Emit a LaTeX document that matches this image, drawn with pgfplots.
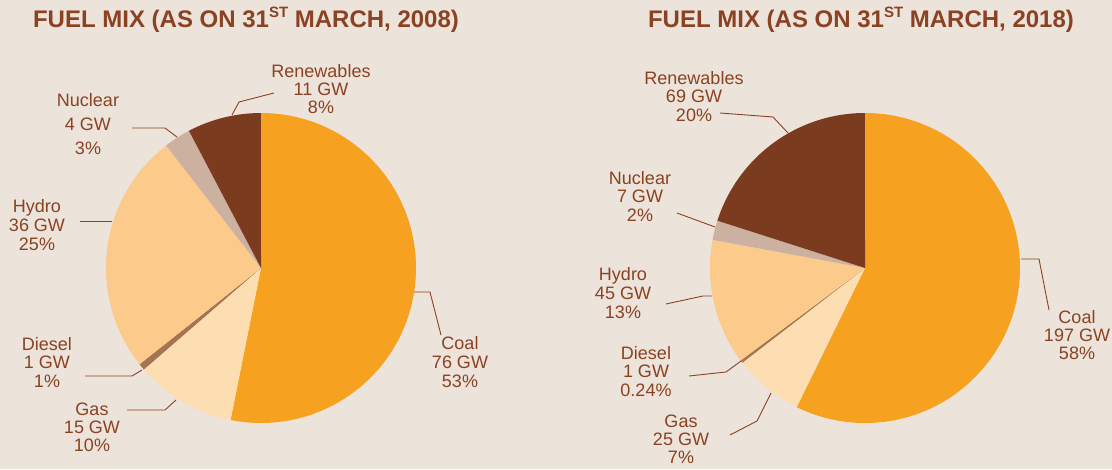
\documentclass[border=0pt]{standalone}
\usepackage{pgfplots}
\pgfplotsset{compat=1.18}
\usepackage{pgfplotstable}
\usepackage{fontspec}
\setmainfont{Liberation Sans}

\definecolor{bg}{HTML}{ECE3DB}
\definecolor{txt}{HTML}{8B4222}
\definecolor{pie0}{HTML}{F6A11F} % coal
\definecolor{pie1}{HTML}{FDDEB2} % gas
\definecolor{pie2}{HTML}{A57452} % diesel
\definecolor{pie3}{HTML}{FCCB8C} % hydro
\definecolor{pie4}{HTML}{CCB1A0} % nuclear
\definecolor{pie5}{HTML}{7A3B1E} % renewables

\tikzset{
  lab/.style={anchor=base, text=txt, inner sep=0pt, font=\fontsize{18}{18}\selectfont},
  lead/.style={draw=txt, line width=0.9pt},
}

% installed capacity, GW (clockwise from 12 o'clock)
\pgfplotstableread{
fuel gw
Coal 76
Gas 15
Diesel 1
Hydro 36
Nuclear 4
Renewables 11
}\fuelA
\pgfplotstableread{
fuel gw
Coal 197
Gas 25
Diesel 1
Hydro 45
Nuclear 7
Renewables 69
}\fuelB

% #1 table, #2 #3 centre (axis units = px)
\newcommand{\drawpie}[3]{%
  \gdef\pietot{0}%
  \pgfplotstableforeachcolumnelement{gw}\of#1\as\v{%
    \pgfmathsetmacro\t{\pietot+\v}\xdef\pietot{\t}}%
  \gdef\pieang{90}%
  \pgfplotstableforeachcolumnelement{gw}\of#1\as\v{%
    \pgfmathsetmacro\e{\pieang-360*(\v/\pietot)}%
    \fill[pie\pgfplotstablerow] (axis cs:#2,#3) -- ++(\pieang:155pt)
      arc[start angle=\pieang, end angle=\e, radius=155pt] -- cycle;
    \xdef\pieang{\e}}%
}
% x, first baseline, line step, three lines
\newcommand{\lbl}[6]{%
  \node[lab] at (axis cs:#1,#2) {#4};
  \node[lab] at (axis cs:#1,{#2+#3}) {#5};
  \node[lab] at (axis cs:#1,{#2+2*#3}) {#6};}
\newcommand{\ttl}[2]{%
  \node[anchor=base, text=txt, inner sep=0pt, font=\bfseries\fontsize{24}{28}\selectfont]
    at (axis cs:#1,27) {FUEL MIX (AS ON 31\raisebox{9.5pt}{\fontsize{15}{15}\selectfont ST} MARCH, #2)};}

\begin{document}
\begin{tikzpicture}
\begin{axis}[
    width=1112pt, height=469pt, scale only axis,
    xmin=0, xmax=1112, ymin=0, ymax=469, y dir=reverse,
    hide axis, clip=false,
]
\pgfplotsextra{
  \fill[bg] (axis cs:0,0) rectangle (axis cs:1112,469);
  \drawpie{\fuelA}{261}{268}
  \drawpie{\fuelB}{865}{268}
}

\ttl{246}{2008}
\ttl{861}{2018}

% 2008
\lbl{321}{77}{18}{Renewables}{11 GW}{8\%}
\lbl{88}{106}{24}{Nuclear}{4 GW}{3\%}
\lbl{37}{212}{19}{Hydro}{36 GW}{25\%}
\lbl{47}{350}{18.5}{Diesel}{1 GW}{1\%}
\lbl{92}{415}{18}{Gas}{15 GW}{10\%}
\lbl{460}{349}{19}{Coal}{76 GW}{53\%}
\draw[lead] (axis cs:232,115) -- (axis cs:239,102) -- (axis cs:274,93);
\draw[lead] (axis cs:132,128) -- (axis cs:165,128) -- (axis cs:177,137);
\draw[lead] (axis cs:80,221) -- (axis cs:112,221);
\draw[lead] (axis cs:85,376) -- (axis cs:132,376) -- (axis cs:142,370);
\draw[lead] (axis cs:127,410) -- (axis cs:165,410) -- (axis cs:176,400);
\draw[lead] (axis cs:414,292) -- (axis cs:430,292) -- (axis cs:441,335);

% 2018
\lbl{694}{84}{18.5}{Renewables}{69 GW}{20\%}
\lbl{640}{184}{18.5}{Nuclear}{7 GW}{2\%}
\lbl{623}{280}{19}{Hydro}{45 GW}{13\%}
\lbl{646}{359}{18.5}{Diesel}{1 GW}{0.24\%}
\lbl{681}{427}{18}{Gas}{25 GW}{7\%}
\lbl{1077}{323}{18}{Coal}{197 GW}{58\%}
\draw[lead] (axis cs:720,113) -- (axis cs:773,117) -- (axis cs:788,133);
\draw[lead] (axis cs:677,213) -- (axis cs:715,227);
\draw[lead] (axis cs:666,304) -- (axis cs:703,296) -- (axis cs:712,296);
\draw[lead] (axis cs:689,376) -- (axis cs:726,372) -- (axis cs:741,361);
\draw[lead] (axis cs:730,435) -- (axis cs:757,421) -- (axis cs:771,393);
\draw[lead] (axis cs:1021,259) -- (axis cs:1039,259) -- (axis cs:1049,310);
\end{axis}
\end{tikzpicture}
\end{document}
